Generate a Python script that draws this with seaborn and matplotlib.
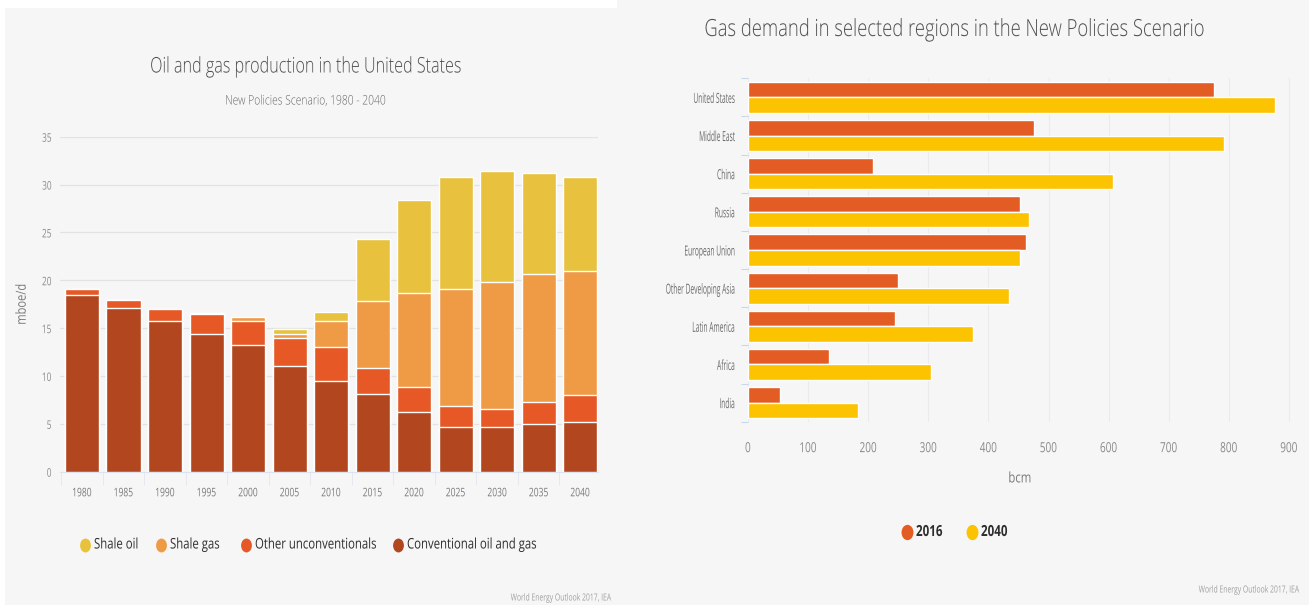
import numpy as np
import pandas as pd
import matplotlib
matplotlib.use("Agg")
import matplotlib.pyplot as plt
from matplotlib.lines import Line2D
from matplotlib.patches import Rectangle
from matplotlib.markers import MarkerStyle
from matplotlib.patheffects import AbstractPathEffect
from matplotlib.ticker import FixedLocator
from matplotlib.transforms import Affine2D
import seaborn as sns

# ---- Oil and gas production in the United States (mboe/d) ----
years = ["1980", "1985", "1990", "1995", "2000", "2005", "2010",
         "2015", "2020", "2025", "2030", "2035", "2040"]
conventional = [18.5, 17.1, 15.7, 14.4, 13.2, 11.0, 9.5, 8.1, 6.2, 4.7, 4.7, 5.0, 5.2]
other_unconv = [0.6, 0.8, 1.3, 2.1, 2.5, 3.0, 3.5, 2.7, 2.7, 2.2, 1.9, 2.3, 2.8]
shale_gas = [0.0, 0.0, 0.0, 0.1, 0.5, 0.4, 2.7, 7.0, 9.8, 12.2, 13.2, 13.4, 13.0]
shale_oil = [0.0, 0.0, 0.0, 0.0, 0.0, 0.5, 1.0, 6.5, 9.7, 11.7, 11.6, 10.5, 9.8]

# ---- Gas demand in selected regions (bcm) ----
regions = ["United States", "Middle East", "China", "Russia", "European Union",
           "Other Developing Asia", "Latin America", "Africa", "India"]
demand_2016 = [775, 475, 208, 453, 462, 250, 245, 134, 54]
demand_2040 = [877, 792, 607, 468, 452, 435, 374, 304, 183]

C_CONV = "#b1461f"
C_OTHER = "#e65927"
C_SGAS = "#ef9b46"
C_SOIL = "#e8c23f"
C_2016 = "#e35c24"
C_2040 = "#fcc300"
BG = "#f6f6f6"

sns.set_theme(style="white")
plt.rcParams["font.family"] = ["Open Sans", "DejaVu Sans"]


class Narrow(AbstractPathEffect):
    """Squeeze glyph outlines horizontally to imitate a condensed typeface."""

    def __init__(self, sx=0.72, anchor="center"):
        super().__init__()
        self.sx = sx
        self.anchor = anchor

    def draw_path(self, renderer, gc, tpath, affine, rgbFace=None):
        xs = tpath.vertices[:, 0]
        if len(xs) == 0:
            return
        if self.anchor == "left":
            px = 0.0
        elif self.anchor == "right":
            px = xs.max()
        else:
            px = 0.5 * (xs.min() + xs.max())
        squeeze = Affine2D().translate(-px, 0).scale(self.sx, 1).translate(px, 0)
        m = np.dot(affine.get_matrix(), squeeze.get_matrix())
        renderer.draw_path(gc, tpath, Affine2D(m), rgbFace)


def narrow(texts, sx, anchor):
    for t in texts:
        t.set_path_effects([Narrow(sx, anchor)])


W, H = 1309, 608
fig = plt.figure(figsize=(W / 100, H / 100), dpi=100, facecolor=BG)


def px_rect(x0, y0, x1, y1):
    return [x0 / W, 1 - y1 / H, (x1 - x0) / W, (y1 - y0) / H]


def ftext(x, y, s, sx=0.72, **kw):
    t = fig.text(x / W, 1 - y / H, s, **kw)
    narrow([t], sx, kw.get("ha", "left"))
    return t


def legend_entry(x, y, swatch, label, size, sx, msize, **kw):
    oval = MarkerStyle("o", transform=Affine2D().scale(0.78, 1.0))
    fig.add_artist(Line2D([x / W], [1 - y / H], transform=fig.transFigure, marker=oval,
                          markersize=msize, markerfacecolor=swatch, markeredgecolor="none",
                          linestyle="none"))
    ftext(x + 9, y, label, sx=sx, ha="left", va="center", fontsize=size, **kw)


# white margins around the two panels
for rect in [(0, 1 - 8 / H, 617 / W, 8 / H), (0, 0, 5 / W, 1), (0, 0, 1, 3 / H)]:
    fig.patches.append(Rectangle(rect[:2], rect[2], rect[3], transform=fig.transFigure,
                                 facecolor="white", edgecolor="none", zorder=0))

# ================= left: stacked production bars =================
ax1 = fig.add_axes(px_rect(60, 136.7, 598, 471.7))
ax1.set_facecolor(BG)

prod = pd.DataFrame({
    "year": years,
    "Conventional oil and gas": conventional,
    "Other unconventionals": other_unconv,
    "Shale gas": shale_gas,
    "Shale oil": shale_oil,
})
stack_order = ["Conventional oil and gas", "Other unconventionals", "Shale gas", "Shale oil"]
cum = prod[stack_order].cumsum(axis=1)
cum["year"] = prod["year"]
layer_colors = {"Shale oil": C_SOIL, "Shale gas": C_SGAS,
                "Other unconventionals": C_OTHER, "Conventional oil and gas": C_CONV}

# draw cumulative totals from the top layer down so each segment shows through
for name in reversed(stack_order):
    sns.barplot(data=cum, x="year", y=name, order=years, color=layer_colors[name],
                width=0.82, saturation=1, errorbar=None, ax=ax1, zorder=3)

ax1.set_xlim(-0.53, 12.43)
ax1.set_ylim(0, 35)
ax1.set_yticks(np.arange(0, 36, 5))
ax1.yaxis.grid(True, color="#e2e2e2", linewidth=0.9)
ax1.set_axisbelow(True)
for s in ["top", "right", "left"]:
    ax1.spines[s].set_visible(False)
ax1.spines["bottom"].set_color("#dde3ee")
ax1.spines["bottom"].set_linewidth(0.8)
ax1.tick_params(axis="y", length=0, pad=6, labelsize=8.5, labelcolor="#8a8a8a")
ax1.tick_params(axis="x", which="major", length=0, pad=10.5, labelsize=8.5, labelcolor="#7a7a7a")
ax1.xaxis.set_minor_locator(FixedLocator(np.arange(-0.5, 13, 1)))
ax1.tick_params(axis="x", which="minor", length=9, width=0.7, color="#e3e8f1", bottom=True)
ax1.set_xlabel("")
ax1.set_ylabel("mboe/d", fontsize=10, color="#7a7a7a", labelpad=6)
narrow(ax1.get_yticklabels(), 0.7, "right")
narrow(ax1.get_xticklabels(), 0.72, "center")
narrow([ax1.yaxis.label], 0.8, "center")

ftext(306, 67, "Oil and gas production in the United States", sx=0.75, ha="center",
      va="center", fontsize=15.5, color="#505050", weight="light")
ftext(306, 101, "New Policies Scenario, 1980 - 2040", sx=0.78, ha="center", va="center",
      fontsize=9.5, color="#6a6a6a", weight="light")

for x, name in [(85, "Shale oil"), (161, "Shale gas"), (246, "Other unconventionals"),
                (398, "Conventional oil and gas")]:
    legend_entry(x, 545, layer_colors[name], name, 10.5, 0.78, 10, color="#2e2e2e")

ftext(612, 598, "World Energy Outlook 2017, IEA", sx=0.7, ha="right", va="center",
      fontsize=7, color="#a0a0a0")

# ================= right: gas demand by region =================
ax2 = fig.add_axes(px_rect(748, 78.3, 1292, 421.7))
ax2.set_facecolor(BG)

gas = pd.DataFrame({
    "region": regions * 2,
    "year": ["2016"] * len(regions) + ["2040"] * len(regions),
    "bcm": demand_2016 + demand_2040,
})
sns.barplot(data=gas, y="region", x="bcm", hue="year", order=regions, orient="h",
            palette={"2016": C_2016, "2040": C_2040}, width=0.82, saturation=1,
            errorbar=None, legend=False, ax=ax2, zorder=3)

ax2.set_xlim(0, 905)
ax2.set_ylim(8.5, -0.5)
ax2.set_xticks(np.arange(0, 901, 100))
ax2.xaxis.grid(True, color="#ebebeb", linewidth=0.8)
ax2.set_axisbelow(True)
for s in ["top", "right", "left", "bottom"]:
    ax2.spines[s].set_visible(False)
ax2.tick_params(axis="x", length=0, pad=14, labelsize=10, labelcolor="#8a8a8a")
ax2.tick_params(axis="y", which="major", length=0, pad=9, labelsize=10, labelcolor="#6a6a6a")
ax2.yaxis.set_minor_locator(FixedLocator(np.arange(-0.5, 9, 1)))
ax2.tick_params(axis="y", which="minor", length=5, width=0.8, color="#ccd6eb", left=True)
ax2.set_ylabel("")
ax2.set_xlabel("bcm", fontsize=10.5, color="#7a7a7a", labelpad=11)
narrow(ax2.get_yticklabels(), 0.48, "right")
narrow(ax2.get_xticklabels(), 0.72, "center")
narrow([ax2.xaxis.label], 0.78, "center")

ftext(955, 30, "Gas demand in selected regions in the New Policies Scenario", sx=0.78,
      ha="center", va="center", fontsize=17, color="#505050", weight="light")

legend_entry(907, 532, C_2016, "2016", 11, 0.76, 11, color="#2e2e2e", weight="bold")
legend_entry(972, 532, C_2040, "2040", 11, 0.76, 11, color="#2e2e2e", weight="bold")

ftext(1300, 590, "World Energy Outlook 2017, IEA", sx=0.7, ha="right", va="center",
      fontsize=7, color="#a0a0a0")

fig.savefig("out.png", dpi=100, facecolor=BG)
